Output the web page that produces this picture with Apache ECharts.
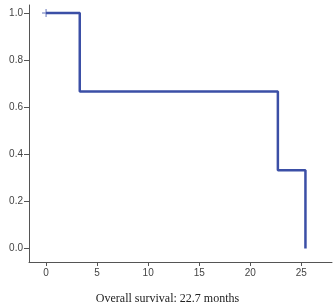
<!DOCTYPE html>
<html><head><meta charset="utf-8">
<script src="https://cdn.jsdelivr.net/npm/echarts@6/dist/echarts.min.js"></script>
<style>html,body{margin:0;padding:0;background:#fff}#c{width:335px;height:304px}</style>
</head><body><div id="c"></div>
<script>
const times = [0, 3.3, 22.7, 25.4];
const survival = [1.0, 0.667, 0.333, 0.0];
const censorTimes = [0];
const censorSurvival = [1.0];
const xTicks = [0, 5, 10, 15, 20, 25];
const yTicks = [0, 0.2, 0.4, 0.6, 0.8, 1.0];
const titleText = 'Overall survival: 22.7 months';

const chart = echarts.init(document.getElementById('c'), null, {renderer: 'canvas'});
const axisColor = '#555';
chart.setOption({
  animation: false,
  backgroundColor: '#fff',
  title: {
    text: titleText, left: 'center', top: 288,
    textStyle: {fontFamily: 'Liberation Serif', fontSize: 12, fontWeight: 'normal', color: '#222'}
  },
  grid: {left: 29, right: 3, top: 5, bottom: 42},
  xAxis: {
    type: 'value', min: -1.67, max: 28,
    axisLine: {show: true, onZero: false, lineStyle: {color: axisColor, width: 1}},
    axisTick: {show: true, length: 4, customValues: xTicks, lineStyle: {color: axisColor}},
    axisLabel: {customValues: xTicks, color: '#444', fontFamily: 'Liberation Sans', fontSize: 10, margin: 6},
    splitLine: {show: false}
  },
  yAxis: {
    type: 'value', min: -0.057, max: 1.034,
    axisLine: {show: true, onZero: false, lineStyle: {color: axisColor, width: 1}},
    axisTick: {show: true, length: 5, customValues: yTicks, lineStyle: {color: axisColor}},
    axisLabel: {customValues: yTicks, color: '#444', fontFamily: 'Liberation Sans', fontSize: 10, margin: 6,
      formatter: v => v.toFixed(1)},
    splitLine: {show: false}
  },
  series: [
    {
      type: 'line', step: 'end', showSymbol: false,
      data: times.map((t, i) => [t, survival[i]]),
      lineStyle: {color: '#3b4fa6', width: 2.5}
    },
    {
      type: 'scatter',
      data: censorTimes.map((t, i) => [t, censorSurvival[i]]),
      symbol: 'path://M4.4,0H5.6V4.4H10V5.6H5.6V10H4.4V5.6H0V4.4H4.4Z',
      symbolSize: 8,
      itemStyle: {color: '#3b4fa6'}
    }
  ]
});
</script></body></html>
